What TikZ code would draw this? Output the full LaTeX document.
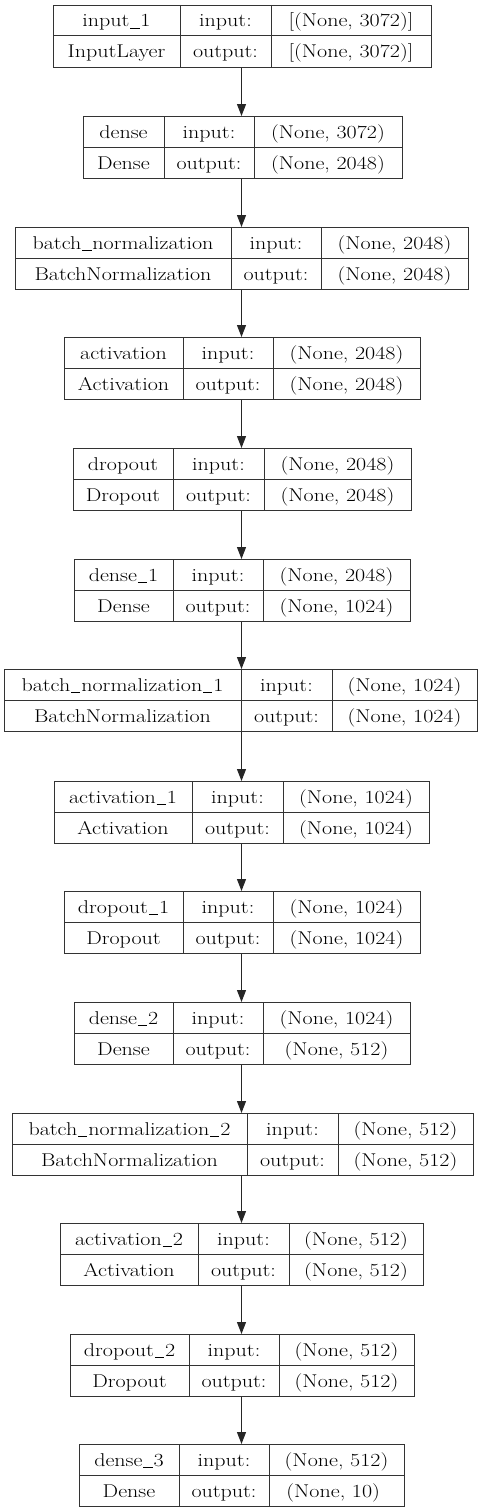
\documentclass[tikz,border=0pt]{standalone}
\usepackage{graphicx}
\usetikzlibrary{arrows.meta}
\newcommand\wtxt[1]{\scalebox{1.19}[1]{#1}}
\newcommand\us{\kern0.04em\rule[-0.12em]{0.42em}{0.045em}\kern0.04em}
\tikzset{
  layerbox/.style={draw=black!80, line width=1pt, inner sep=0pt, anchor=north west, minimum height=62pt},
  cellline/.style={draw=black!80, line width=1pt},
  lbl/.style={anchor=base, inner sep=0pt, font=\fontsize{18.5}{22}\selectfont},
  arr/.style={draw=black!85, line width=1.1pt, -{Triangle[width=9pt,length=12pt]}}
}
\begin{document}
\begin{tikzpicture}[x=1pt,y=-1pt]
\useasboundingbox (0,0) rectangle (484,1512);
\coordinate (axis) at (241.5,0);
\foreach \ty/\xa/\xb/\xc/\xd/\na/\nb/\ia/\ob [count=\i] in {
 5/53/180/271/431/{input\us 1}/{InputLayer}/{[(None, 3072)]}/{[(None, 3072)]},
 116/83/164/254/402/{dense}/{Dense}/{(None, 3072)}/{(None, 2048)},
 227/15/231/321/468/{batch\us normalization}/{BatchNormalization}/{(None, 2048)}/{(None, 2048)},
 337/64/183/273/420/{activation}/{Activation}/{(None, 2048)}/{(None, 2048)},
 448/73/173/264/411/{dropout}/{Dropout}/{(None, 2048)}/{(None, 2048)},
 559/74/173/263/410/{dense\us 1}/{Dense}/{(None, 2048)}/{(None, 1024)},
 669/4/241/332/477/{batch\us normalization\us 1}/{BatchNormalization}/{(None, 1024)}/{(None, 1024)},
 781/54/192/283/429/{activation\us 1}/{Activation}/{(None, 1024)}/{(None, 1024)},
 891/64/183/273/420/{dropout\us 1}/{Dropout}/{(None, 1024)}/{(None, 1024)},
 1002/74/173/263/410/{dense\us 2}/{Dense}/{(None, 1024)}/{(None, 512)},
 1113/12/247/338/473/{batch\us normalization\us 2}/{BatchNormalization}/{(None, 512)}/{(None, 512)},
 1223/60/198/289/423/{activation\us 2}/{Activation}/{(None, 512)}/{(None, 512)},
 1334/70/189/279/414/{dropout\us 2}/{Dropout}/{(None, 512)}/{(None, 512)},
 1444/79/179/269/404/{dense\us 3}/{Dense}/{(None, 512)}/{(None, 10)}
}{
  \node[layerbox, minimum width={(\xd-\xa)*1pt}] (L\i) at (\xa,\ty) {};
  \draw[cellline] (\xa,\ty+31) -- (\xd,\ty+31);
  \draw[cellline] (\xb,\ty) -- (\xb,\ty+62);
  \draw[cellline] (\xc,\ty) -- (\xc,\ty+62);
  \node[lbl] (L\i-name) at ({(\xa+\xb)/2},\ty+22) {\wtxt{\na}};
  \node[lbl] (L\i-cls) at ({(\xa+\xb)/2},\ty+53) {\wtxt{\nb}};
  \node[lbl] (L\i-ik) at ({(\xb+\xc)/2},\ty+22) {\wtxt{input:}};
  \node[lbl] (L\i-ok) at ({(\xb+\xc)/2},\ty+53) {\wtxt{output:}};
  \node[lbl] (L\i-iv) at ({(\xc+\xd)/2},\ty+22) {\wtxt{\ia}};
  \node[lbl] (L\i-ov) at ({(\xc+\xd)/2},\ty+53) {\wtxt{\ob}};
}
\foreach \i [evaluate=\i as \j using int(\i+1)] in {1,...,13}{
  \draw[arr] (L\i.south -| axis) -- (L\j.north -| axis);
}
\end{tikzpicture}
\end{document}
